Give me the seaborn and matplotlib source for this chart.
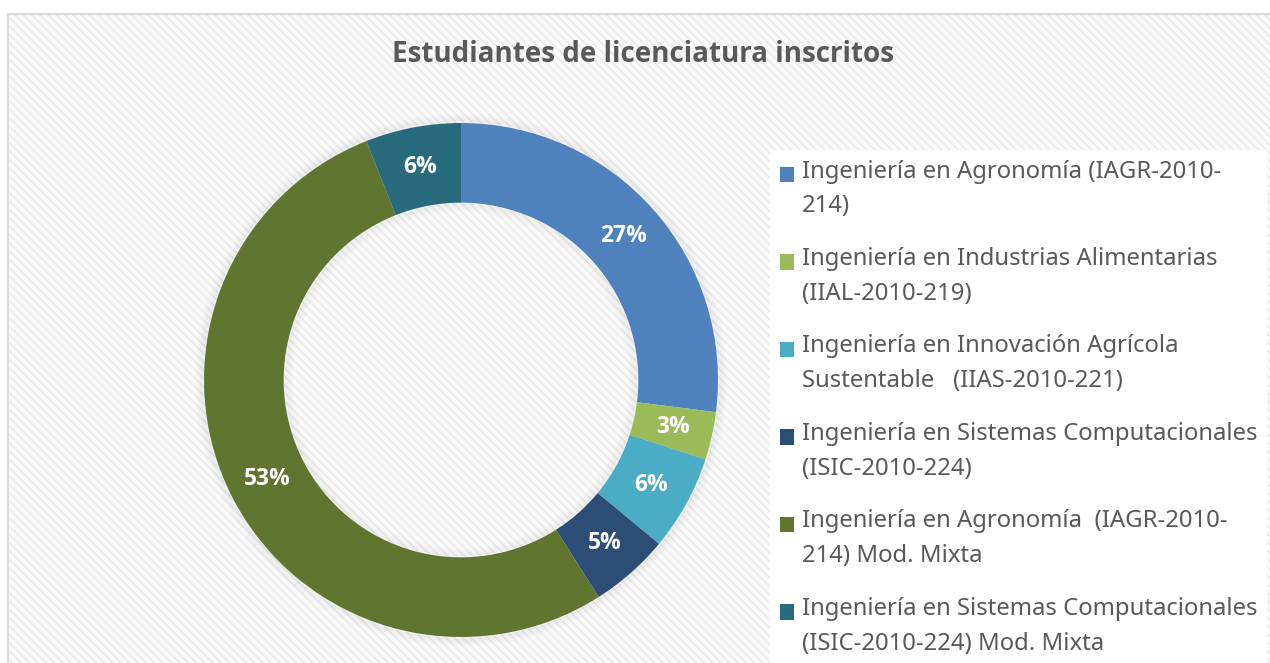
import matplotlib
matplotlib.use("Agg")
import matplotlib.pyplot as plt
import seaborn as sns
from matplotlib.patches import Rectangle, Patch, Circle
from matplotlib.legend_handler import HandlerPatch

# data
programs = [
    "Ingeniería en Agronomía (IAGR-2010-\n214)",
    "Ingeniería en Industrias Alimentarias\n(IIAL-2010-219)",
    "Ingeniería en Innovación Agrícola\nSustentable   (IIAS-2010-221)",
    "Ingeniería en Sistemas Computacionales\n(ISIC-2010-224)",
    "Ingeniería en Agronomía  (IAGR-2010-\n214) Mod. Mixta",
    "Ingeniería en Sistemas Computacionales\n(ISIC-2010-224) Mod. Mixta",
]
shares = [27, 3, 6, 5, 53, 6]
slice_colors = ["#4F81BD", "#9BBB59", "#4BACC6", "#2C4D75", "#5F7530", "#276A7C"]

TITLE = "Estudiantes de licenciatura inscritos"

sns.set_theme(style="white")
plt.rcParams["font.family"] = ["Noto Sans", "DejaVu Sans"]
plt.rcParams["hatch.linewidth"] = 1.2
palette = sns.color_palette(slice_colors)
BOLD_FONT = ["Open Sans", "Noto Sans", "DejaVu Sans"]

W, H = 1270, 663
fig = plt.figure(figsize=(W / 100, H / 100), dpi=100)
fig.patch.set_facecolor("white")

# hatched chart area with light border (runs off the right/bottom edge)
bg = Rectangle((8 / W, 0), 1.0, (H - 14) / H, transform=fig.transFigure,
               facecolor="#FBFBFB", edgecolor="#EAEAEA", hatch="\\\\\\\\",
               linewidth=0, zorder=-2)
fig.patches.append(bg)
frame = Rectangle((8 / W, -0.01), 1.0, (H - 14) / H + 0.01, transform=fig.transFigure,
                  facecolor="none", edgecolor="#D9D9D9", linewidth=1.6, zorder=-1)
fig.patches.append(frame)

fig.text(643 / W, 1 - 55 / H, TITLE, ha="center", va="center", family=BOLD_FONT,
         fontsize=20, fontweight="bold", color="#595959")

# donut axes: centre (461, 380), outer radius 257 px
cx, cy, r = 461, 380, 257
pad = 20
ax = fig.add_axes([(cx - r - pad) / W, (H - cy - r - pad) / H,
                   2 * (r + pad) / W, 2 * (r + pad) / H])
ax.set_zorder(2)
ax.axis("off")
ax.patch.set_alpha(0)

# soft shadow around the ring
for i in range(6):
    ax.add_patch(Circle((0, 0), 1.0 + 0.006 * (i + 1), facecolor="none",
                        edgecolor="#000000", linewidth=2.0, alpha=0.035 * (6 - i) / 6, zorder=1))
    ax.add_patch(Circle((0, 0), 0.69 - 0.006 * (i + 1), facecolor="none",
                        edgecolor="#000000", linewidth=2.0, alpha=0.03 * (6 - i) / 6, zorder=1))

wedges, _, autotexts = ax.pie(
    shares, colors=palette, startangle=90, counterclock=False, radius=1.0,
    autopct="%1.0f%%", pctdistance=0.845,
    wedgeprops=dict(width=0.31, linewidth=0),
    textprops=dict(color="white", fontsize=16.5, fontweight="bold", family=BOLD_FONT),
)
for w in wedges:
    w.set_zorder(2)
for t in autotexts:
    t.set_zorder(3)
lim = (r + pad) / r
ax.set_xlim(-lim, lim)
ax.set_ylim(-lim, lim)
ax.set_aspect("equal")


def top_square(legend, orig_handle, xdescent, ydescent, width, height, fontsize):
    # square sits next to the first line of a two-line label
    return Rectangle((-xdescent, -ydescent + 0.62 * fontsize), width, height)


handles = [Patch(facecolor=c, edgecolor="none") for c in slice_colors]
leg = fig.legend(handles, programs, loc="upper left",
                 bbox_to_anchor=(770 / W, 1 - 150 / H), frameon=True,
                 facecolor="white", edgecolor="none", framealpha=1,
                 fontsize=17.2, labelcolor="#595959", handlelength=0.62,
                 handleheight=0.62, handletextpad=0.3, labelspacing=1.2,
                 borderpad=0.4, borderaxespad=0,
                 handler_map={Patch: HandlerPatch(patch_func=top_square)})
leg.get_frame().set_boxstyle("square", pad=0)
for t in leg.get_texts():
    t.set_linespacing(1.6)

fig.savefig("out.png", dpi=100)
